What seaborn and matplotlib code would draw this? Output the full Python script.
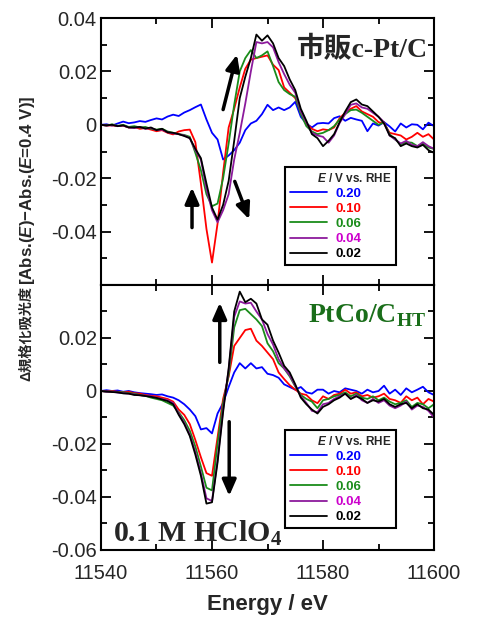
import numpy as np
import pandas as pd
import seaborn as sns
import matplotlib.pyplot as plt
from matplotlib.lines import Line2D
from matplotlib.ticker import MultipleLocator, FuncFormatter

sns.set_style('ticks')
plt.rcParams['font.family'] = ['Liberation Sans', 'Noto Sans CJK JP']
plt.rcParams['axes.unicode_minus'] = False
plt.rcParams['mathtext.fontset'] = 'custom'
plt.rcParams['mathtext.rm'] = 'Liberation Serif:bold'
plt.rcParams['mathtext.bf'] = 'Liberation Serif:bold'
plt.rcParams['mathtext.it'] = 'Liberation Sans:italic:bold'

# energy grid (eV) and potentials (V vs. RHE)
energy = np.arange(11540, 11601, 1)
potentials = ['0.20', '0.10', '0.06', '0.04', '0.02']
line_colors = ['#0000ff', '#ff0000', '#1a8c1a', '#8c1a9c', '#000000']
label_colors = ['#0000ff', '#ff0000', '#1a8c1a', '#cc00cc', '#000000']

# delta absorbance values, in units of 1e-3
# top panel: commercial c-Pt/C
top_020 = [0, 0.2, -0.3, 0.5, 1.2, 0.6, 0.9, 1.4, 1.1, 1.8,
           2.4, 2.0, 3.1, 3.8, 3.3, 4.6, 5.5, 6.6, 7.6, 2.0,
           -3.0, -5.5, -13.0, -11.5, -9.5, -6.7, -2.0, 0.5, 1.5, 4.0,
           7.5, 5.5, 6.5, 5.5, 6.5, 8.6, 3.0, 0.5, -1.0, 0.5,
           0.7, 0.5, 2.5, 3.2, 1.5, 2.6, 2.0, 1.5, -2.4, 0.5,
           -0.3, 1.0, -0.6, -2.5, 0.5, -1.0, 0.2, 0.0, -1.7, 0.8, -0.5]
top_010 = [0, -0.3, -0.2, -0.5, -0.3, -1.0, -0.8, -1.5, -1.2, -1.8,
           -2.4, -2.0, -3.0, -3.6, -2.5, -2.0, -1.8, -6.5, -22.0, -39.0,
           -51.6, -37.0, -18.0, -1.0, 6.0, 14.0, 21.0, 24.4, 25.0, 25.5,
           26.0, 22.5, 20.5, 14.0, 12.0, 10.0, 5.0, 0.5, -1.5, -2.4,
           -1.7, -2.0, -1.0, 2.5, 4.5, 6.0, 7.0, 5.0, 4.0, 3.0,
           1.0, 0.5, -3.0, -3.5, -4.0, -5.5, -4.5, -3.0, -4.5, -3.5, -5.5]
top_006 = [0, -0.3, 0.2, -0.4, 0, -0.8, -0.5, -1.0, -0.8, -1.5,
           -1.8, -1.5, -2.5, -3.0, -3.5, -3.8, -4.5, -10.5, -17.0, -26.0,
           -30.5, -29.5, -20.0, -7.0, 7.5, 20.0, 25.0, 28.0, 25.0, 26.0,
           27.5, 22.0, 16.0, 13.0, 11.5, 10.5, 4.0, -0.5, -2.5, -3.5,
           -3.0, -2.0, -0.5, 2.0, 4.0, 5.5, 5.7, 4.5, 3.0, 1.5,
           0, 1.0, -3.5, -5.5, -7.3, -6.5, -6.7, -8.0, -7.0, -8.5, -9.0]
top_004 = [0, -0.3, 0, -0.5, -0.3, -1.0, -1.2, -0.8, -1.5, -1.2,
           -2.0, -1.8, -2.8, -3.2, -3.5, -4.0, -5.0, -9.5, -13.0, -24.0,
           -32.0, -36.5, -32.0, -26.0, -13.0, -3.0, 8.0, 20.0, 31.0, 30.5,
           31.0, 29.0, 23.5, 19.0, 15.0, 12.0, 5.0, 1.0, -3.0, -4.0,
           -4.5, -6.7, -4.0, 0.7, 4.0, 7.5, 8.0, 6.5, 6.0, 4.5,
           3.0, 1.0, -4.0, -5.5, -7.0, -6.0, -7.5, -8.0, -6.5, -8.0, -9.0]
top_002 = [0, -0.2, 0, -0.5, -0.2, -1.0, -1.0, -0.8, -1.4, -1.0,
           -2.0, -1.5, -2.8, -3.0, -3.5, -4.2, -5.0, -9.0, -12.5, -22.0,
           -31.0, -35.5, -30.0, -21.0, -6.0, 10.0, 18.0, 25.0, 33.8, 31.5,
           33.5, 30.5, 25.0, 22.0, 17.0, 13.0, 6.0, 1.5, -3.5, -5.0,
           -8.0, -6.0, -3.5, 1.0, 5.0, 8.5, 9.5, 7.6, 7.0, 5.0,
           3.0, 0.5, -4.0, -5.0, -8.0, -7.0, -8.0, -8.5, -7.5, -9.5, -10.5]

# bottom panel: PtCo/C_HT
bot_020 = [0, 0.3, 0, 0.2, -0.3, 0, -0.5, -0.8, -1.0, -1.2,
           -1.5, -1.3, -2.0, -2.5, -3.5, -5.0, -7.0, -9.5, -14.5, -14.0,
           -16.0, -8.5, -4.5, 1.5, 7.0, 10.5, 8.5, 10.5, 8.5, 9.0,
           6.5, 6.0, 5.0, 2.5, 1.5, 0.5, 1.5, -0.5, -1.0, 0.5,
           0.5, -1.0, 0, -0.5, 1.0, 0.5, 0, -1.0, 0.5, -0.5,
           0, 2.0, -1.0, 0.5, -1.5, 1.0, -0.5, 0.5, 1.6, -0.5, -1.5]
bot_010 = [0, -0.2, 0, -0.3, -0.5, -0.3, -0.8, -1.0, -1.5, -1.8,
           -2.0, -2.5, -3.0, -4.0, -7.0, -9.0, -12.5, -18.5, -25.0, -31.0,
           -32.0, -17.5, -3.0, 5.5, 17.0, 20.0, 23.0, 23.5, 19.0, 17.0,
           14.5, 12.0, 7.0, 4.5, 2.2, 0.5, -1.0, -1.5, -3.5, -4.6,
           -2.0, -3.0, -1.5, -1.0, 0.5, -1.0, -0.5, -2.0, -1.5, -2.5,
           -2.0, -1.0, -3.0, -3.5, -4.5, -2.0, -3.5, -2.5, -5.0, -3.0, -4.0]
bot_006 = [0, -0.3, -0.2, -0.5, -0.5, -0.8, -1.0, -1.5, -1.8, -2.5,
           -3.0, -3.5, -4.5, -5.5, -8.0, -11.0, -15.0, -21.0, -28.5, -36.5,
           -37.5, -20.0, -4.5, 6.0, 24.0, 30.5, 31.0, 29.0, 27.0, 24.5,
           18.0, 15.0, 10.5, 8.5, 5.5, 1.7, -1.5, -3.0, -4.0, -6.5,
           -3.5, -3.0, -2.0, -1.5, -0.5, -2.0, -1.0, -2.5, -3.0, -2.0,
           -3.5, -2.5, -4.0, -5.0, -4.5, -3.5, -6.0, -4.5, -5.0, -6.5, -5.0]
bot_004 = [0, -0.3, -0.3, -0.6, -0.8, -1.0, -1.3, -1.6, -1.8, -2.0,
           -2.5, -3.0, -3.5, -4.5, -8.5, -12.0, -16.5, -23.0, -31.0, -40.5,
           -41.5, -26.0, -7.0, 8.0, 28.0, 33.8, 33.0, 33.3, 30.0, 27.0,
           21.5, 17.5, 12.0, 8.5, 6.0, 2.0, -2.0, -4.5, -7.5, -8.0,
           -5.0, -4.5, -3.0, -2.0, -1.0, -3.0, -1.5, -3.5, -4.5, -3.0,
           -4.5, -3.5, -5.5, -6.5, -5.5, -4.0, -7.0, -5.5, -6.0, -7.5, -10.0]
bot_002 = [0, -0.2, -0.4, -0.5, -0.9, -1.0, -1.5, -1.6, -1.9, -2.2,
           -2.6, -3.2, -3.8, -5.0, -9.0, -12.5, -17.0, -24.0, -32.0, -42.5,
           -42.0, -27.0, -8.0, 8.5, 30.0, 37.5, 33.5, 34.8, 33.0, 27.0,
           25.0, 19.0, 14.5, 9.5, 7.0, 2.5, -2.5, -5.0, -7.0, -8.5,
           -6.0, -5.0, -3.5, -2.5, -1.0, -3.0, -2.0, -3.0, -4.5, -3.5,
           -4.0, -3.0, -5.0, -6.0, -5.0, -4.5, -6.5, -5.0, -6.5, -7.0, -9.0]

top_series = [top_020, top_010, top_006, top_004, top_002]
bot_series = [bot_020, bot_010, bot_006, bot_004, bot_002]


def long_df(series):
    frames = []
    for pot, vals in zip(potentials, series):
        frames.append(pd.DataFrame({'energy': energy,
                                    'dabs': np.array(vals) / 1000.0,
                                    'potential': pot}))
    return pd.concat(frames, ignore_index=True)


def style_axes(ax, hide_label):
    ax.set_xlim(11540, 11600)
    ax.set_ylim(-0.06, 0.04)
    ax.xaxis.set_major_locator(MultipleLocator(20))
    ax.xaxis.set_minor_locator(MultipleLocator(10))
    ax.yaxis.set_major_locator(MultipleLocator(0.02))
    ax.yaxis.set_minor_locator(MultipleLocator(0.01))
    ax.yaxis.set_major_formatter(FuncFormatter(
        lambda v, p: '' if abs(v - hide_label) < 1e-9 else ('0' if abs(v) < 1e-9 else f'{v:.2f}')))
    ax.xaxis.set_major_formatter(FuncFormatter(lambda v, p: f'{v:.0f}'))
    ax.tick_params(which='both', direction='in', top=True, right=True,
                   width=1.3, labelsize=14.5, color='black')
    ax.tick_params(which='major', length=7, pad=3)
    ax.tick_params(which='minor', length=4)
    ax.tick_params(axis='x', which='major', pad=10)
    for sp in ax.spines.values():
        sp.set_linewidth(1.5)
        sp.set_color('black')
    ax.set_xlabel('')
    ax.set_ylabel('')


def add_legend(ax, y0):
    handles = [Line2D([], [], color=c, lw=1.3) for c in line_colors]
    leg = ax.legend(handles, potentials, title=r'$\mathit{E}$ / V vs. RHE',
                    loc='lower left', bbox_to_anchor=(0.553, y0, 0.333, 0.3),
                    mode='expand', borderaxespad=0,
                    frameon=True, fancybox=False, edgecolor='black', framealpha=1,
                    prop={'weight': 'bold', 'size': 9.5},
                    title_fontproperties={'weight': 'bold', 'size': 8.5},
                    labelcolor=label_colors, handlelength=2.8, handletextpad=0.7,
                    labelspacing=0.22, borderpad=0.35, alignment='right')
    leg.get_frame().set_linewidth(1.5)


def arrow(ax, start, end):
    ax.annotate('', xy=end, xytext=start,
                arrowprops=dict(arrowstyle='-|>,head_width=0.35,head_length=0.8',
                                lw=2.5, color='black', shrinkA=0, shrinkB=0,
                                mutation_scale=12))


fig = plt.figure(figsize=(4.8, 6.17), dpi=100)
ax1 = fig.add_axes([0.2104, 0.5381, 0.6938, 0.4327])
ax2 = fig.add_axes([0.2104, 0.1086, 0.6938, 0.4295])

pal = dict(zip(potentials, line_colors))
for ax, series in [(ax1, top_series), (ax2, bot_series)]:
    sns.lineplot(data=long_df(series), x='energy', y='dabs', hue='potential',
                 hue_order=potentials, palette=pal, linewidth=1.3,
                 errorbar=None, legend=False, ax=ax)

style_axes(ax1, -0.06)
style_axes(ax2, 0.04)
ax1.tick_params(labelbottom=False)

add_legend(ax1, 0.075)
add_legend(ax2, 0.083)

# arrows showing the trend with potential
arrow(ax1, (11556.4, -0.0385), (11556.4, -0.0235))
arrow(ax1, (11562.0, 0.0057), (11564.5, 0.0263))
arrow(ax1, (11564.1, -0.0212), (11566.7, -0.0354))
arrow(ax2, (11561.4, 0.0108), (11561.4, 0.0333))
arrow(ax2, (11563.1, -0.0116), (11563.1, -0.0396))

ax1.text(0.982, 0.88, '市販c-Pt/C', transform=ax1.transAxes, ha='right', va='center',
         fontsize=20, fontweight='bold', family=['Liberation Serif', 'Noto Sans CJK JP'])
ax2.text(0.975, 0.885, r'PtCo/C$_{\mathrm{HT}}$', transform=ax2.transAxes, ha='right',
         va='center', fontsize=20, fontweight='bold', color='#1a6e1a', family='Liberation Serif')
ax2.text(0.036, 0.065, r'0.1 M HClO$_{4}$', transform=ax2.transAxes, ha='left',
         va='center', fontsize=21.5, fontweight='bold', family='Liberation Serif')

ax2.set_xlabel('Energy / eV', fontsize=16, fontweight='bold', labelpad=8)

# y label: CJK part and bracket part as two rotated texts
fig.text(0.053, 1 - 381 / 617, 'Δ規格化吸光度', rotation=90, ha='center', va='bottom',
         fontsize=10.2, fontweight='bold', family=['Liberation Sans', 'Noto Sans CJK JP'])
fig.text(0.057, 1 - 285 / 617, r'[Abs.($\mathit{E}$)−Abs.($\mathit{E}$=0.4 V)]',
         rotation=90, ha='center', va='bottom', fontsize=12.2, fontweight='bold',
         family='Liberation Sans')

fig.savefig('out.png', dpi=100)
